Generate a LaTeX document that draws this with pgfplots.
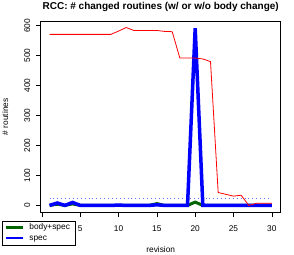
\documentclass[border=0pt]{standalone}
\usepackage{fontspec}
\setmainfont{Liberation Sans}
\usepackage{pgfplots}
\pgfplotsset{compat=1.18}
\definecolor{rgreen}{HTML}{006400}
\definecolor{dotblue}{HTML}{6A6AFF}
\begin{document}
\fontsize{8.33}{10}\selectfont
\begin{tikzpicture}
\useasboundingbox (0,0) rectangle (294pt,254pt);
\begin{axis}[
  at={(40.7pt,41.5pt)}, anchor=south west,
  scale only axis, width=240pt, height=191.5pt,
  xmin=-0.16, xmax=31.16, ymin=-23.7, ymax=615.7,
  xtick={0,5,...,30}, xticklabels={,5,10,15,20,25,30},
  ytick={0,100,...,600},
  tick align=outside, xtick pos=left, ytick pos=left,
  major tick length=4.5pt,
  tick style={black, line width=0.6pt},
  axis line style={black, line width=0.6pt},
  /pgf/number format/assume math mode=true,
  tick label style={font=\fontsize{8.33}{10}\selectfont},
  xticklabel style={anchor=base},
  xticklabel shift=14pt,
  yticklabel style={rotate=90, anchor=base},
  yticklabel shift=6pt,
  title={RCC: \# changed routines (w/ or w/o body change)},
  title style={font=\bfseries\fontsize{10}{12}\selectfont, at={(0.5,1)}, anchor=base, yshift=5pt},
  xlabel={revision},
  xlabel style={font=\fontsize{8.33}{10}\selectfont, at={(0.5,0)}, anchor=base, yshift=-39.5pt},
  ylabel={\# routines},
  ylabel style={font=\fontsize{8.33}{10}\selectfont, at={(-0.1354,0.5)}, anchor=base},
  clip=true,
  legend style={at={(-0.16,-0.0428)}, anchor=north west, draw=black, line width=0.6pt, fill=white,
    font=\fontsize{8.33}{10}\selectfont,
    inner xsep=2.5pt, inner ysep=3pt, row sep=2.5pt, column sep=2pt,
    nodes={inner xsep=2.5pt, inner ysep=0pt, text height=6pt, text depth=1.8pt, anchor=base west}},
  legend cell align=left,
  legend image code/.code={\draw[#1, line width=2.8pt] (1.5pt,2.3pt) -- (18.5pt,2.3pt);},
]
\addplot[dotblue, dash pattern=on 1pt off 2.9pt, line width=1pt, forget plot] coordinates {
(1,22) (30,22)};
\addplot[rgreen, line width=3pt] coordinates {
(1,0) (2,4) (3,0) (4,5) (5,0) (6,0) (7,0) (8,0) (9,0) (10,0) (11,0) (12,0) (13,0) (14,0) (15,6) (16,0) (17,0) (18,0) (19,0) (20,11) (21,0) (22,0) (23,0) (24,0) (25,0) (26,0) (27,0) (28,0) (29,0) (30,0)};
\addlegendentry{body+spec}
\addplot[blue, line width=3.5pt] coordinates {
(1,0) (2,8) (3,0) (4,10) (5,0) (6,0) (7,0) (8,0) (9,0) (10,1) (11,0) (12,0) (13,0) (14,0) (15,2) (16,0) (17,0) (18,0) (19,0) (20,592) (21,0) (22,0) (23,0) (24,0) (25,0) (26,0) (27,0) (28,0) (29,0) (30,0)};
\addlegendentry{spec}
\addplot[red, line width=0.8pt, forget plot] coordinates {
(1,571) (2,571) (3,571) (4,571) (5,571) (6,571) (7,571) (8,571) (9,571) (10,582) (11,594) (12,584) (13,584) (14,584) (15,584) (16,581) (17,580) (18,492) (19,492) (20,492) (21,489) (22,480) (23,43) (24,37) (25,31) (26,34) (27,0) (28,7) (29,7) (30,7)};
\end{axis}
\end{tikzpicture}
\end{document}
